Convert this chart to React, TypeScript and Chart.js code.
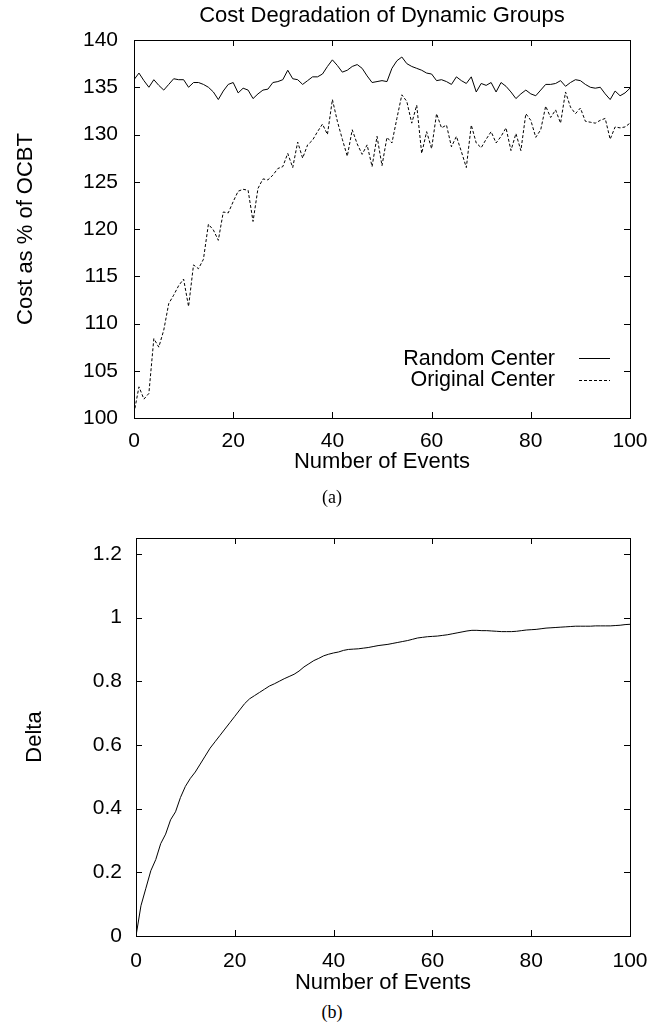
import React, { useEffect, useRef } from "react";
import { Chart, registerables } from "chart.js";

Chart.register(...registerables);

// ---------- data ----------
const EVENTS = [
  0, 1, 2, 3, 4, 5, 6, 7, 8, 9, 10, 11, 12, 13, 14, 15, 16, 17, 18, 19, 20,
  21, 22, 23, 24, 25, 26, 27, 28, 29, 30, 31, 32, 33, 34, 35, 36, 37, 38, 39, 40,
  41, 42, 43, 44, 45, 46, 47, 48, 49, 50, 51, 52, 53, 54, 55, 56, 57, 58, 59, 60,
  61, 62, 63, 64, 65, 66, 67, 68, 69, 70, 71, 72, 73, 74, 75, 76, 77, 78, 79, 80,
  81, 82, 83, 84, 85, 86, 87, 88, 89, 90, 91, 92, 93, 94, 95, 96, 97, 98, 99, 100,
];

const RANDOM_CENTER = [
  135.8, 136.5, 135.7, 135.0, 135.8, 135.2, 134.7, 135.3, 135.9, 135.8,
  135.8, 135.0, 135.5, 135.5, 135.3, 135.0, 134.5, 133.7, 134.6, 135.3,
  135.5, 134.4, 134.9, 134.7, 133.8, 134.3, 134.7, 134.8, 135.5, 135.6,
  135.8, 136.8, 135.9, 135.8, 135.3, 135.7, 136.1, 136.1, 136.4, 137.2,
  137.9, 137.3, 136.6, 136.8, 137.2, 137.4, 137.0, 136.2, 135.5, 135.6,
  135.7, 135.6, 137.0, 137.8, 138.2, 137.5, 137.2, 137.0, 136.8, 136.5,
  136.4, 135.7, 135.8, 135.6, 135.3, 136.1, 135.7, 135.4, 136.1, 134.5,
  135.4, 135.2, 135.5, 134.5, 135.5, 135.1, 134.5, 133.8, 134.3, 134.7,
  134.3, 134.1, 134.7, 135.3, 135.3, 135.4, 135.7, 135.1, 135.5, 135.8,
  135.7, 135.3, 135.0, 134.9, 135.0, 134.3, 133.7, 134.6, 134.1, 134.4,
  134.9,
];

const ORIGINAL_CENTER = [
  100.5, 103.3, 102.0, 102.6, 108.4, 107.5, 109.3, 112.1, 113.0, 114.0,
  114.7, 111.8, 116.2, 115.8, 116.8, 120.5, 119.9, 118.8, 121.8, 121.7,
  122.9, 124.0, 124.2, 124.1, 120.8, 124.3, 125.3, 125.2, 125.7, 126.4,
  126.6, 128.0, 126.5, 129.2, 127.5, 128.9, 129.4, 130.3, 131.1, 130.0,
  133.7, 131.4, 129.5, 127.7, 130.5, 129.0, 127.9, 128.9, 126.6, 129.8,
  126.7, 129.7, 129.1, 131.7, 134.2, 133.5, 131.2, 133.1, 128.0, 130.3,
  128.5, 132.2, 130.7, 131.0, 128.7, 129.8, 128.2, 126.5, 131.0, 129.1,
  128.6, 129.5, 130.3, 129.1, 129.8, 130.7, 128.3, 130.1, 128.3, 132.2,
  131.5, 129.7, 130.5, 133.0, 131.8, 132.6, 131.2, 134.5, 132.9, 132.2,
  132.8, 131.4, 131.3, 131.2, 131.5, 131.7, 129.5, 130.8, 130.7, 130.8,
  131.2,
];

const DELTA = [
  0, 0.095, 0.15, 0.205, 0.24, 0.29, 0.32, 0.365, 0.39, 0.435,
  0.47, 0.495, 0.515, 0.54, 0.565, 0.59, 0.61, 0.63, 0.65, 0.67,
  0.69, 0.71, 0.73, 0.745, 0.755, 0.765, 0.775, 0.785, 0.792, 0.8,
  0.808, 0.815, 0.822, 0.832, 0.845, 0.855, 0.865, 0.872, 0.88, 0.885,
  0.889, 0.892, 0.897, 0.9, 0.901, 0.902, 0.904, 0.906, 0.909, 0.912,
  0.914, 0.916, 0.919, 0.922, 0.925, 0.928, 0.932, 0.936, 0.938, 0.94,
  0.941, 0.942, 0.944, 0.946, 0.949, 0.952, 0.955, 0.958, 0.96, 0.96,
  0.959, 0.959, 0.958, 0.957, 0.956, 0.956, 0.956, 0.957, 0.959, 0.961,
  0.962, 0.963, 0.965, 0.967, 0.968, 0.969, 0.97, 0.971, 0.972, 0.973,
  0.973, 0.973, 0.973, 0.974, 0.974, 0.974, 0.974, 0.975, 0.976, 0.978,
  0.979,
];

const TITLE_A = "Cost Degradation of Dynamic Groups";
const X_TITLE = "Number of Events";
const Y_TITLE_A = "Cost as % of OCBT";
const Y_TITLE_B = "Delta";
const SERIES_A = ["Random Center", "Original Center"];
const SERIES_B = "Delta";
const CAPTION_A = "(a)";
const CAPTION_B = "(b)";

const FONT = "'Liberation Sans', Arial, Helvetica, sans-serif";
const TICK_SIZE = 21;
const TITLE_SIZE = 22;

// ---------- plugins ----------
const framePlugin = {
  id: "gnuFrame",
  afterDatasetsDraw(chart: any) {
    const { ctx, chartArea: a, scales } = chart;
    const xs = scales.x;
    const ys = scales.y;
    const T = 6;
    ctx.save();
    ctx.strokeStyle = "#000";
    ctx.lineWidth = 1;
    ctx.setLineDash([]);
    ctx.strokeRect(a.left + 0.5, a.top + 0.5, a.right - a.left, a.bottom - a.top);
    ctx.beginPath();
    xs.ticks.forEach((t: any) => {
      const p = Math.round(xs.getPixelForValue(t.value)) + 0.5;
      ctx.moveTo(p, a.bottom);
      ctx.lineTo(p, a.bottom - T);
      ctx.moveTo(p, a.top);
      ctx.lineTo(p, a.top + T);
    });
    ys.ticks.forEach((t: any) => {
      const p = Math.round(ys.getPixelForValue(t.value)) + 0.5;
      ctx.moveTo(a.left, p);
      ctx.lineTo(a.left + T, p);
      ctx.moveTo(a.right, p);
      ctx.lineTo(a.right - T, p);
    });
    ctx.stroke();
    ctx.restore();
  },
};

const legendPlugin = {
  id: "gnuLegend",
  afterDatasetsDraw(chart: any, _args: any, opts: any) {
    if (!opts || !opts.show) return;
    const { ctx, chartArea: a } = chart;
    chart.data.datasets.forEach((ds: any, i: number) => {
      const yy = a.bottom - 59 + i * 21.5;
      ctx.save();
      ctx.font = `21.5px ${FONT}`;
      ctx.fillStyle = "#000";
      ctx.textAlign = "right";
      ctx.textBaseline = "middle";
      ctx.fillText(ds.label, a.right - 75, yy);
      ctx.strokeStyle = ds.borderColor;
      ctx.lineWidth = 1;
      ctx.setLineDash(ds.borderDash || []);
      ctx.beginPath();
      const ly = Math.round(yy - 1) + 0.5;
      ctx.moveTo(a.right - 51, ly);
      ctx.lineTo(a.right - 20, ly);
      ctx.stroke();
      ctx.restore();
    });
  },
};

const pts = (ys: number[]) => EVENTS.map((x, i) => ({ x, y: ys[i] }));

function xScale(bottomPad: number, height: number, tickPad: number) {
  return {
    type: "linear" as const,
    position: "bottom" as const,
    min: 0,
    max: 100,
    grid: { display: false, drawTicks: false },
    border: { display: false },
    ticks: { stepSize: 20, color: "#000", font: { family: FONT, size: TICK_SIZE }, padding: tickPad, maxRotation: 0 },
    title: { display: true, text: X_TITLE, color: "#000", font: { family: FONT, size: TITLE_SIZE }, padding: { top: 0, bottom: bottomPad } },
    afterFit(s: any) {
      s.height = height;
    },
  };
}

// ---------- charts ----------
function CostChart() {
  const ref = useRef<HTMLCanvasElement>(null);
  useEffect(() => {
    const chart = new Chart(ref.current as HTMLCanvasElement, {
      type: "line",
      data: {
        datasets: [
          {
            label: SERIES_A[0],
            data: pts(RANDOM_CENTER),
            borderColor: "#000",
            borderWidth: 1,
            pointRadius: 0,
            tension: 0,
            fill: false,
          },
          {
            label: SERIES_A[1],
            data: pts(ORIGINAL_CENTER),
            borderColor: "#000",
            borderWidth: 1,
            borderDash: [3, 2],
            pointRadius: 0,
            tension: 0,
            fill: false,
          },
        ],
      },
      options: {
        responsive: false,
        maintainAspectRatio: false,
        animation: false,
        layout: { padding: { left: 0, right: 31, top: 0, bottom: 0 } },
        plugins: {
          legend: { display: false },
          tooltip: { enabled: false },
          gnuLegend: { show: true },
        } as any,
        scales: {
          x: xScale(5, 62, 11),
          x2: {
            type: "linear",
            position: "top",
            min: 0,
            max: 100,
            grid: { display: false, drawTicks: false },
            border: { display: false },
            ticks: { display: false },
            title: { display: true, text: TITLE_A, color: "#000", font: { family: FONT, size: TITLE_SIZE }, padding: { top: 3, bottom: 0 } },
            afterFit(s: any) {
              s.height = 40;
            },
          },
          y: {
            type: "linear",
            min: 100,
            max: 140,
            grid: { display: false, drawTicks: false },
            border: { display: false },
            ticks: { stepSize: 5, color: "#000", font: { family: FONT, size: TICK_SIZE }, padding: 16 },
            title: { display: true, text: Y_TITLE_A, color: "#000", font: { family: FONT, size: TITLE_SIZE }, padding: { top: 13, bottom: 0 } },
            afterFit(s: any) {
              s.width = 134;
            },
          },
        } as any,
      },
      plugins: [framePlugin, legendPlugin],
    });
    return () => chart.destroy();
  }, []);
  return <canvas ref={ref} width={661} height={480} style={{ position: "absolute", left: 0, top: 0 }} />;
}

function DeltaChart() {
  const ref = useRef<HTMLCanvasElement>(null);
  useEffect(() => {
    const chart = new Chart(ref.current as HTMLCanvasElement, {
      type: "line",
      data: {
        datasets: [
          {
            label: SERIES_B,
            data: pts(DELTA),
            borderColor: "#000",
            borderWidth: 1,
            pointRadius: 0,
            tension: 0,
            fill: false,
          },
        ],
      },
      options: {
        responsive: false,
        maintainAspectRatio: false,
        animation: false,
        layout: { padding: { left: 0, right: 31, top: 38, bottom: 0 } },
        plugins: {
          legend: { display: false },
          tooltip: { enabled: false },
        },
        scales: {
          x: xScale(4, 64, 13),
          y: {
            type: "linear",
            min: 0,
            max: 1.25,
            grid: { display: false, drawTicks: false },
            border: { display: false },
            ticks: {
              stepSize: 0.2,
              includeBounds: false,
              color: "#000",
              font: { family: FONT, size: TICK_SIZE },
              padding: 14,
              callback: (v: any) => String(Number(Number(v).toFixed(1))),
            },
            title: { display: true, text: Y_TITLE_B, color: "#000", font: { family: FONT, size: TITLE_SIZE }, padding: { top: 22, bottom: 0 } },
            afterFit(s: any) {
              s.width = 136;
            },
          },
        } as any,
      },
      plugins: [framePlugin],
    });
    return () => chart.destroy();
  }, []);
  return <canvas ref={ref} width={661} height={500} style={{ position: "absolute", left: 0, top: 500 }} />;
}

const captionStyle = (top: number): React.CSSProperties => ({
  position: "absolute",
  left: 0,
  top,
  width: 661,
  textAlign: "center",
  fontFamily: "'Liberation Serif', 'Times New Roman', serif",
  fontSize: 18,
  lineHeight: "20px",
  color: "#000",
  paddingLeft: 3,
  boxSizing: "border-box",
});

export default function App() {
  return (
    <div style={{ position: "absolute", left: 0, top: 0, width: 661, height: 1030, background: "#fff" }}>
      <CostChart />
      <DeltaChart />
      <div style={captionStyle(487)}>{CAPTION_A}</div>
      <div style={captionStyle(1002)}>{CAPTION_B}</div>
    </div>
  );
}
